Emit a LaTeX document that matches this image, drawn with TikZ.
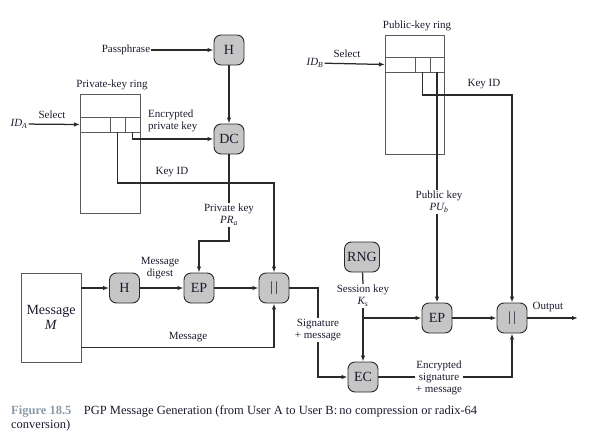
\documentclass[tikz,border=0pt]{standalone}
\usepackage{fontspec}
\setmainfont{Liberation Serif}
\usetikzlibrary{arrows.meta,calc}
\definecolor{nodefill}{HTML}{C6C6C6}
\definecolor{linec}{HTML}{2A2A2A}
\definecolor{ringc}{HTML}{5A5A5A}
\definecolor{capgray}{HTML}{8C9AA8}
\definecolor{txt}{HTML}{1A1A2E}
\begin{document}
\begin{tikzpicture}[x=1pt,y=-1pt,
  op/.style={draw=linec,fill=nodefill,rounded corners=7pt,line width=0.9pt,
    minimum width=30pt,minimum height=30pt,inner sep=0pt,font=\fontsize{14}{16}\selectfont,text=txt},
  lbl/.style={font=\fontsize{11}{12}\selectfont,text=txt,inner sep=1pt,align=center},
  wlbl/.style={lbl,fill=white},
  arr/.style={draw=linec,line width=1.25pt,-{Latex[length=6pt,width=4.5pt]}},
  ln/.style={draw=linec,line width=1.25pt},
  ring/.style={draw=ringc,line width=0.8pt}
]
\useasboundingbox (0,0) rectangle (591,439);

% ---------- top-left: passphrase, H, DC ----------
\node[lbl] (pass) at (126,50) {Passphrase};
\node[op] (H1) at (229,50) {H};
\node[op] (DC) at (229,139) {DC};
\draw[arr] (pass) -- (H1);
\draw[arr] (H1) -- (DC);

% ---------- private-key ring ----------
\node[lbl] (privlbl) at (112,85) {Private-key ring};
\node[ring,minimum width=60pt,minimum height=119pt,inner sep=0pt] (priv) at (110,153.5) {};
\draw[ring] (80,117) -- (140,117) (80,132) -- (140,132);
\draw[ring] (110,117) -- (110,132) (125,117) -- (125,132);
\coordinate (pa) at (117.5,132);
\coordinate (pb) at (132.5,132);
\coordinate (privin) at (80,124.5);
\node[lbl] (idA) at (19,124) {\textit{ID\textsubscript{A}}};
\node[lbl] (selA) at (52,115) {Select};
\draw[arr] (idA) -- (privin);
\node[lbl,anchor=west,align=left] (encpk) at (147,121) {Encrypted\\private key};
\draw[arr] (pb) |- (DC);

% ---------- message part ----------
\node[draw=ringc,line width=0.8pt,minimum width=60pt,minimum height=89pt,inner sep=0pt,
  align=center,font=\fontsize{14}{15}\selectfont,text=txt] (msg) at (51,317.5) {Message\\\textit{M}};
\node[op] (H2) at (124.5,288) {H};
\node[op] (EP1) at (199,288) {EP};
\node[op] (OR1) at (274,288) {|\,|};
\node[lbl] (dig) at (160,268) {Message\\digest};
\draw[arr] (msg.east |- H2) -- (H2);
\draw[arr] (H2) -- (EP1);
\draw[arr] (EP1) -- (OR1);
\draw[arr] ($(msg.south east)+(0,-15)$) -| (OR1.south);
\node[lbl] (msglbl) at (188,337) {Message};

% private key
\node[lbl] (pk) at (229,215) {Private key\\\textit{PR\textsubscript{a}}};
\draw[ln] (DC) -- (pk.north);
\draw[arr] (pk.south) -- ++(0,14) -| (EP1.north);

% key ID (private)
\draw[arr] (pa) -- ++(0,51) -| (OR1.north);
\node[lbl] (kid1) at (172,172) {Key ID};

% ---------- public-key ring ----------
\node[lbl] (publbl) at (417,26) {Public-key ring};
\node[ring,minimum width=59pt,minimum height=119pt,inner sep=0pt] (pub) at (414.5,94.5) {};
\draw[ring] (385,57) -- (444,57) (385,72) -- (444,72);
\draw[ring] (415,57) -- (415,72) (430,57) -- (430,72);
\coordinate (qa) at (422.5,72);
\coordinate (qb) at (437,72);
\coordinate (pubin) at (385,64.5);
\node[lbl] (idB) at (315,63) {\textit{ID\textsubscript{B}}};
\node[lbl] (selB) at (347,54) {Select};
\draw[arr] (idB) -- (pubin);

% ---------- right part ----------
\node[op,minimum width=35pt] (RNG) at (362,257) {RNG};
\node[op] (EC) at (363,377) {EC};
\node[op] (EP2) at (437,318) {EP};
\node[op] (OR2) at (512,318) {|\,|};
\node[lbl] (sk) at (363,296) {Session key\\\textit{K\textsubscript{s}}};
\draw[ln] (RNG) -- (sk.north);
\draw[arr] (sk.south) -- (EC);
\coordinate (br) at (EC.north |- EP2);
\draw[arr] (br) -- (EP2);
\draw[arr] (EP2) -- (OR2);
\coordinate (outend) at (578,318);
\draw[arr] (OR2) -- (outend);
\node[lbl] (outl) at (548,307) {Output};

% public key
\node[lbl] (pubk) at (439,202) {Public key\\\textit{PU\textsubscript{b}}};
\draw[ln] (qb) -- (qb |- pubk.north);
\draw[arr] (qb |- pubk.south) -- (EP2);
% key ID (public)
\draw[arr] (qa) -- ++(0,23) -| (OR2.north);
\node[lbl] (kid2) at (484,84) {Key ID};

% signature + message
\draw[arr] (OR1) -- ++(44,0) |- (EC);
\node[wlbl] (sig) at (318,330) {Signature\\+ message};

% encrypted signature + message
\draw[arr] (EC) -| (OR2.south);
\node[wlbl] (encsig) at (439,378) {Encrypted\\signature\\+ message};

% ---------- caption ----------
\node[anchor=north west,align=left,inner sep=0pt,font=\fontsize{12.5}{14}\selectfont,text=txt] (cap) at (11,405)
  {\textcolor{capgray}{\textbf{Figure 18.5}}\hspace{1em}PGP Message Generation (from User A to User B:\,no compression or radix-64\\conversion)};
\end{tikzpicture}
\end{document}
